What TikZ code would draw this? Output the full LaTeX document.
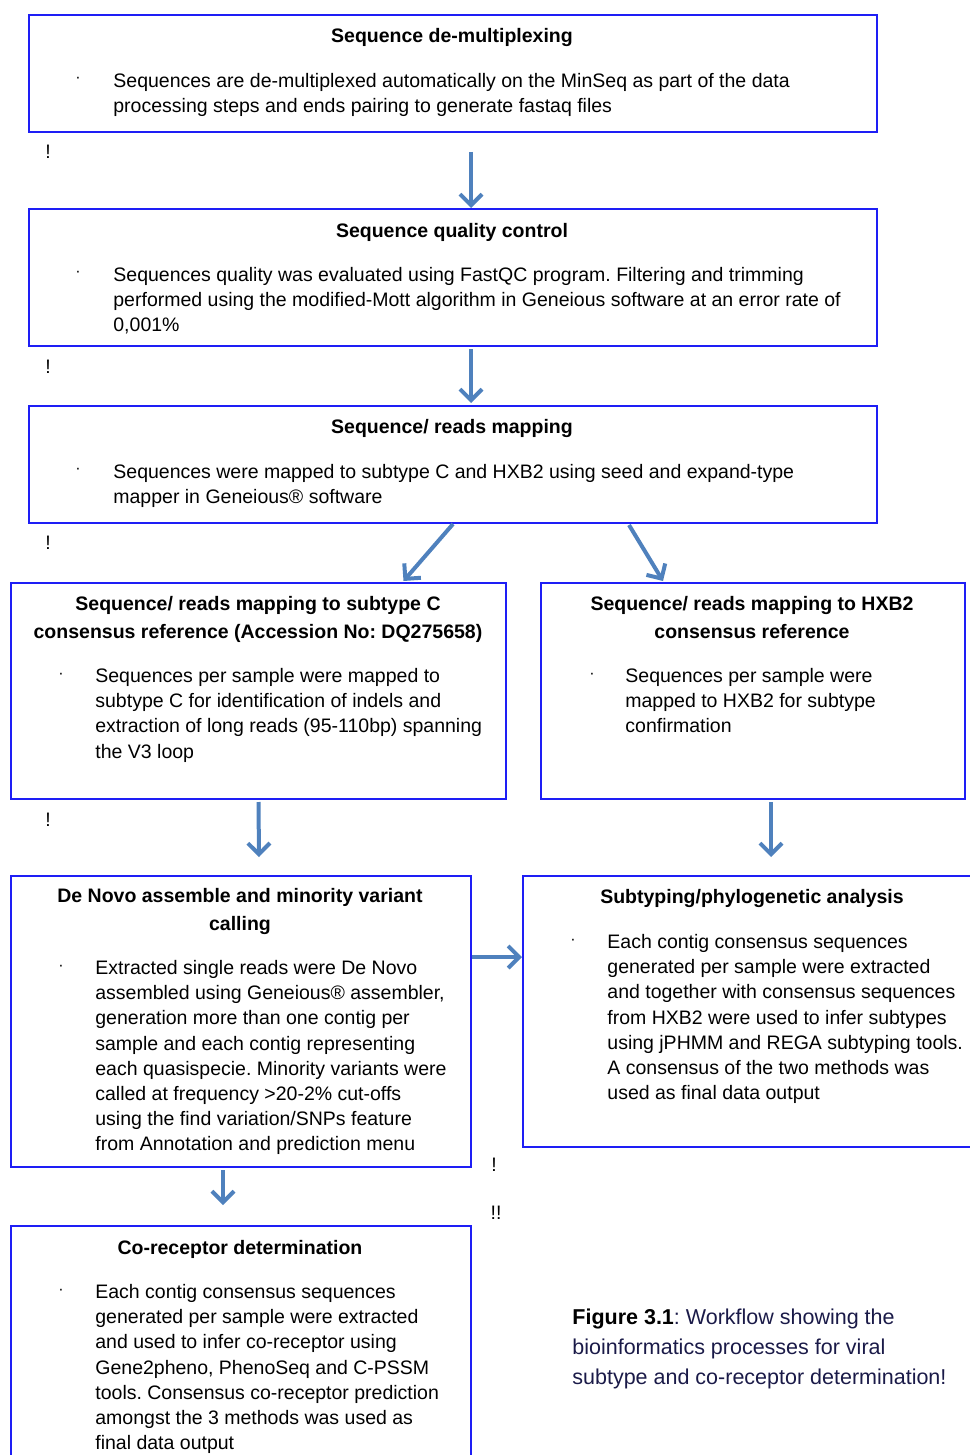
\documentclass[tikz,border=0pt]{standalone}
\usepackage{fontspec}
\setmainfont{Liberation Sans}
\usepackage{tikz}
\usetikzlibrary{arrows.meta,calc}

\definecolor{boxblue}{RGB}{30,30,245}
\definecolor{flowblue}{RGB}{79,129,189}
\definecolor{capnavy}{RGB}{26,26,72}

\frenchspacing

\begin{document}
\begin{tikzpicture}[x=0.5pt, y=-0.5pt,
    stepbox/.style={draw=boxblue, line width=1pt, anchor=north west, inner sep=0pt},
    boxtitle/.style={anchor=north, align=center, inner sep=0pt, font=\fontsize{9.75}{14}\selectfont\bfseries},
    boxbody/.style={anchor=north west, align=left, inner sep=0pt, font=\fontsize{9.75}{12.6}\selectfont},
    dotmark/.style={inner sep=0pt, font=\fontsize{8}{8}\selectfont},
    bang/.style={inner sep=0pt, font=\fontsize{9.75}{12}\selectfont},
    flow/.style={draw=flowblue, line width=2pt, -{Straight Barb[length=5.5pt,width=11pt]}}]

    \useasboundingbox (0,0) rectangle (969,1455);

    % boxes
    \node[stepbox, minimum width=424pt, minimum height=58.5pt] (demux) at (28,14) {};
    \node[stepbox, minimum width=424pt, minimum height=68.5pt] (qc) at (28,208) {};
    \node[stepbox, minimum width=424pt, minimum height=58.5pt] (mapping) at (28,405) {};
    \node[stepbox, minimum width=247.5pt, minimum height=108pt] (mapsubc) at (10,582) {};
    \node[stepbox, minimum width=212pt, minimum height=108pt] (maphxb) at (540,582) {};
    \node[stepbox, minimum width=230pt, minimum height=145.5pt] (denovo) at (10,875) {};
    \node[stepbox, minimum width=230pt, minimum height=135.5pt] (subtyping) at (522,875) {};
    \node[stepbox, minimum width=230pt, minimum height=130pt] (coreceptor) at (10,1225) {};

    % titles
    \node[boxtitle] (demuxtitle) at (452,28) {Sequence de-multiplexing};
    \node[boxtitle] (qctitle) at (452,223) {Sequence quality control};
    \node[boxtitle] (maptitle) at (452,419) {Sequence/ reads mapping};
    \node[boxtitle] (subctitle) at (258,596) {Sequence/ reads mapping to subtype C\\consensus reference (Accession No: DQ275658)};
    \node[boxtitle] (hxbtitle) at (752,596) {Sequence/ reads mapping to HXB2\\consensus reference};
    \node[boxtitle] (denovotitle) at (240,888) {De Novo assemble and minority variant\\calling};
    \node[boxtitle] (subtypetitle) at (752,889) {Subtyping/phylogenetic analysis};
    \node[boxtitle] (coreceptortitle) at (240,1240) {Co-receptor determination};

    % bullets
    \node[dotmark] (demuxdot) at (78,80) {\textperiodcentered};
    \node[dotmark] (qcdot) at (78,274) {\textperiodcentered};
    \node[dotmark] (mapdot) at (78,471) {\textperiodcentered};
    \node[dotmark] (subcdot) at (61,676) {\textperiodcentered};
    \node[dotmark] (hxbdot) at (592,676) {\textperiodcentered};
    \node[dotmark] (denovodot) at (61,968) {\textperiodcentered};
    \node[dotmark] (subtypedot) at (573,942) {\textperiodcentered};
    \node[dotmark] (coreceptordot) at (61,1292) {\textperiodcentered};

    % body texts
    \node[boxbody] (demuxtext) at (113,73) {Sequences are de-multiplexed automatically on the MinSeq as part of the data\\processing steps and ends pairing to generate fastaq files};
    \node[boxbody] (qctext) at (113,267) {Sequences quality was evaluated using FastQC program. Filtering and trimming\\performed using the modified-Mott algorithm in Geneious software at an error rate of\\0,001\%};
    \node[boxbody] (maptext) at (113,464) {Sequences were mapped to subtype C and HXB2 using seed and expand-type\\mapper in Geneious\textregistered{} software};
    \node[boxbody] (subctext) at (95,668) {Sequences per sample were mapped to\\subtype C for identification of indels and\\extraction of long reads (95-110bp) spanning\\the V3 loop};
    \node[boxbody] (hxbtext) at (625,668) {Sequences per sample were\\mapped to HXB2 for subtype\\confirmation};
    \node[boxbody] (denovotext) at (95,960) {Extracted single reads were De Novo\\assembled using Geneious\textregistered{} assembler,\\generation more than one contig per\\sample and each contig representing\\each quasispecie. Minority variants were\\called at frequency >20-2\% cut-offs\\using the find variation/SNPs feature\\from Annotation and prediction menu};
    \node[boxbody] (subtypetext) at (607,934) {Each contig consensus sequences\\generated per sample were extracted\\and together with consensus sequences\\from HXB2 were used to infer subtypes\\using jPHMM and REGA subtyping tools.\\A consensus of the two methods was\\used as final data output};
    \node[boxbody] (coreceptortext) at (95,1284) {Each contig consensus sequences\\generated per sample were extracted\\and used to infer co-receptor using\\Gene2pheno, PhenoSeq and C-PSSM\\tools. Consensus co-receptor prediction\\amongst the 3 methods was used as\\final data output};

    % stray marks
    \node[bang] (bang1) at (48,152) {!};
    \node[bang] (bang2) at (48,367) {!};
    \node[bang] (bang3) at (48,543) {!};
    \node[bang] (bang4) at (48,820) {!};
    \node[bang] (bang5) at (494,1165) {!};
    \node[bang] (bang6) at (496,1213) {!!};

    % caption
    \node[anchor=north west, align=left, inner sep=0pt, text=capnavy, font=\fontsize{10.75}{15}\selectfont] (caption) at (572,1309)
        {\textcolor{black}{\textbf{Figure 3.1}}: Workflow showing the\\bioinformatics processes for viral\\subtype and co-receptor determination!};

    % arrows
    \draw[flow] ($(demux.south)+(18,19)$) -- ($(qc.north)+(18,0)$);
    \draw[flow] ($(qc.south)+(18,2)$) -- ($(mapping.north)+(18,-2)$);
    \draw[flow] (mapping.south) -- ($(mapsubc.north)+(145,-1)$);
    \draw[flow] ($(mapping.south)+(176,1)$) -- ($(maphxb.north)+(-90,-1)$);
    \draw[flow] ($(mapsubc.south)+(0,2)$) -- ($(denovo.north)+(18,-18)$);
    \draw[flow] ($(maphxb.south)+(18,2)$) -- ($(subtyping.north)+(18,-18)$);
    \draw[flow] ($(denovo.north east)+(0,82)$) -- ($(subtyping.north west)+(0,82)$);
    \draw[flow] ($(denovo.south)+(-18,2)$) -- ($(coreceptor.north)+(-18,-20)$);

\end{tikzpicture}
\end{document}
